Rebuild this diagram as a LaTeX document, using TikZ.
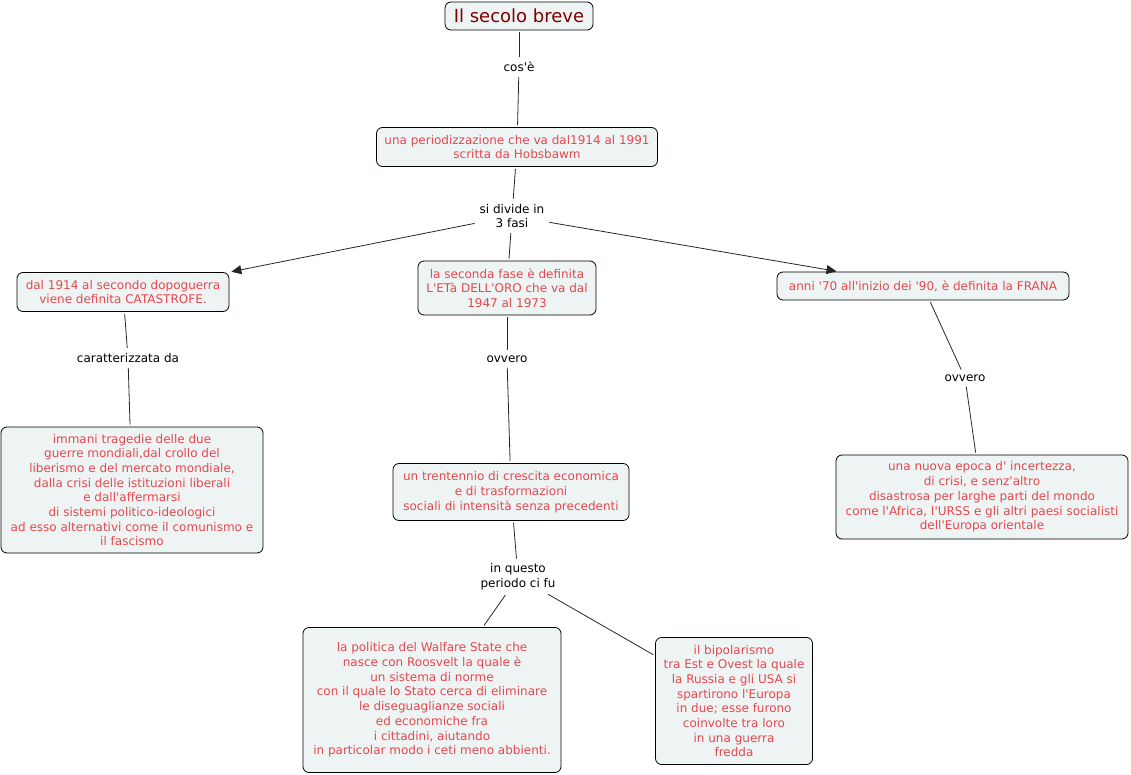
\documentclass[tikz,border=0pt]{standalone}
\usepackage{fontspec}
\setmainfont[Ligatures=TeXOff]{DejaVu Sans}
\usetikzlibrary{arrows.meta}
\definecolor{conceptfill}{HTML}{EEF3F4}
\definecolor{concepttext}{HTML}{E5484D}
\definecolor{titletext}{HTML}{800000}

\begin{document}
\begin{tikzpicture}[x=1pt,y=-1pt,
  concept/.style={draw=black, fill=conceptfill, rounded corners=6pt,
    text=concepttext, align=center, inner sep=2pt, line width=0.8pt,
    font=\fontsize{12}{14.7}\selectfont},
  phrase/.style={align=center, inner sep=3pt,
    font=\fontsize{12}{14.7}\selectfont},
  link/.style={draw=black!85, line width=0.8pt, shorten <=2pt, shorten >=2pt},
  arrowed/.style={link, -{Triangle[length=10pt,width=9pt]}}
]
\useasboundingbox (0,0) rectangle (1131,775);

% concepts
\node[concept, text=titletext, font=\fontsize{18}{20}\selectfont,
  minimum width=148pt, minimum height=28pt] (secolo) at (519,16) {Il secolo breve};
\node[concept, minimum width=281pt, minimum height=39pt] (periodo) at (517,147)
  {una periodizzazione che va dal1914 al 1991\\scritta da Hobsbawm};
\node[concept, minimum width=212pt, minimum height=39pt] (catastrofe) at (123,292)
  {dal 1914 al secondo dopoguerra\\viene definita CATASTROFE.};
\node[concept, minimum width=178pt, minimum height=54pt] (oro) at (507,288)
  {la seconda fase è definita\\L'ETà DELL'ORO che va dal\\1947 al 1973};
\node[concept, minimum width=292pt, minimum height=28pt] (frana) at (923,286)
  {anni '70 all'inizio dei '90, è definita la FRANA};
\node[concept, minimum width=262pt, minimum height=126pt] (tragedie) at (132,490)
  {immani tragedie delle due\\guerre mondiali,dal crollo del\\liberismo e del mercato mondiale,\\
   dalla crisi delle istituzioni liberali\\e dall'affermarsi\\di sistemi politico-ideologici\\
   ad esso alternativi come il comunismo e\\il fascismo};
\node[concept, minimum width=236pt, minimum height=57pt] (trentennio) at (511,492)
  {un trentennio di crescita economica\\e di trasformazioni\\sociali di intensità senza precedenti};
\node[concept, minimum width=292pt, minimum height=84pt] (epoca) at (982,497)
  {una nuova epoca d' incertezza,\\di crisi, e senz'altro\\disastrosa per larghe parti del mondo\\
   come l'Africa, I'URSS e gli altri paesi socialisti\\dell'Europa orientale};
\node[concept, minimum width=258pt, minimum height=145pt] (welfare) at (432,700)
  {la politica del Walfare State che\\nasce con Roosvelt la quale è\\un sistema di norme\\
   con il quale lo Stato cerca di eliminare\\le diseguaglianze sociali\\ed economiche fra\\
   i cittadini, aiutando\\in particolar modo i ceti meno abbienti.};
\node[concept, minimum width=157pt, minimum height=127pt] (bipolarismo) at (734,701)
  {il bipolarismo\\tra Est e Ovest la quale\\la Russia e gli USA si\\spartirono l'Europa\\
   in due; esse furono\\coinvolte tra loro\\in una guerra\\fredda};

% linking phrases
\node[phrase] (cose) at (519,67) {cos'è};
\node[phrase] (fasi) at (512,216) {si divide in\\3 fasi};
\node[phrase] (caratt) at (128,358) {caratterizzata da};
\node[phrase] (ovveroA) at (507,359) {ovvero};
\node[phrase] (ovveroB) at (965,378) {ovvero};
\node[phrase] (periodoci) at (518,577) {in questo\\periodo ci fu};

% connectors
\draw[link] (secolo) -- (cose);
\draw[link] (cose) -- (periodo);
\draw[link] (periodo) -- (fasi);
\draw[arrowed] (fasi) -- (catastrofe.north east);
\draw[link] (fasi) -- (oro);
\draw[arrowed] (fasi) -- (frana);
\draw[link] (catastrofe) -- (caratt);
\draw[link] (caratt) -- (tragedie);
\draw[link] (oro) -- (ovveroA);
\draw[link] (ovveroA) -- (trentennio);
\draw[link] (frana) -- (ovveroB);
\draw[link] (ovveroB) -- (epoca);
\draw[link] (trentennio) -- (periodoci);
\draw[link] (periodoci) -- (welfare);
\draw[link] (periodoci) -- (bipolarismo);
\end{tikzpicture}
\end{document}
